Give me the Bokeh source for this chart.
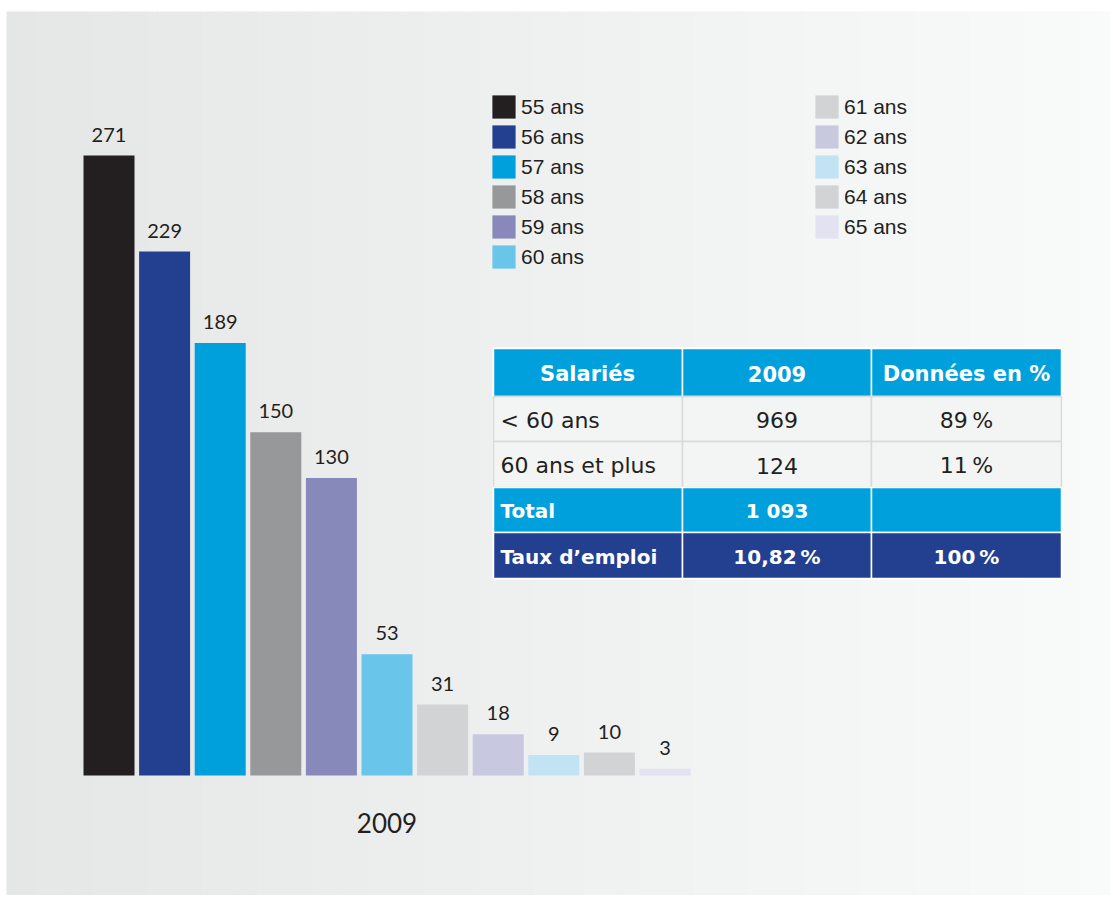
from bokeh.plotting import figure
from bokeh.models import Range1d, ColumnDataSource, Legend, LegendItem
from bokeh.core.properties import value
from bokeh.embed import file_html
from bokeh.resources import INLINE

# ---------------- data ----------------
ages = ["55 ans", "56 ans", "57 ans", "58 ans", "59 ans", "60 ans",
        "61 ans", "62 ans", "63 ans", "64 ans", "65 ans"]
counts = [271, 229, 189, 150, 130, 53, 31, 18, 9, 10, 3]
bar_colors = ["#231f20", "#233f8f", "#00a0dc", "#97989a", "#8889bb", "#69c5ea",
              "#d1d3d4", "#c8c8e0", "#c1e3f4", "#d1d3d4", "#e2e2f0"]
year_label = "2009"

table_header = ["Salariés", "2009", "Données en %"]
row_labels = ["< 60 ans", "60 ans et plus", "Total", "Taux d\u2019emploi"]
row_counts = ["969", "124", "1 093", "10,82\u2009%"]
row_shares = ["89\u2009%", "11\u2009%", "", "100\u2009%"]

# ---------------- layout (page pixels) ----------------
W, H = 1110, 895
PAGE = 0
bar0_center, bar_pitch, bar_px_width = 108.5, 55.6, 51.0
baseline_page, top_page = 775.0, 155.0
px_per_unit = (baseline_page - top_page) / max(counts)

x_start = (PAGE - bar0_center) / bar_pitch
x_end = (PAGE + W - bar0_center) / bar_pitch
y_end = (baseline_page - PAGE) / px_per_unit
y_start = -(PAGE + H - baseline_page) / px_per_unit

p = figure(width=W, height=H, output_backend="svg", toolbar_location=None,
           x_range=Range1d(x_start, x_end), y_range=Range1d(y_start, y_end),
           min_border=0, outline_line_color=None)
p.extra_x_ranges = {"px": Range1d(0, W)}
p.extra_y_ranges = {"px": Range1d(H, 0)}
p.axis.visible = False
p.grid.visible = False
p.background_fill_color = "white"
p.border_fill_color = "white"

# background gradient panel
panel_l, panel_r, panel_t, panel_b = 6, 1110, 11, 895
n_strips = 220
sw = (panel_r - panel_l) / n_strips
lefts, rights, cols = [], [], []
c0, c1 = (229, 230, 230), (249, 250, 250)
for i in range(n_strips):
    t = i / (n_strips - 1)
    c = tuple(int(round(a + (b - a) * t)) for a, b in zip(c0, c1))
    lefts.append(panel_l + i * sw)
    rights.append(min(panel_l + (i + 1) * sw + 1.0, panel_r))
    cols.append("#%02x%02x%02x" % c)
p.quad(left=lefts, right=rights, top=[panel_t] * n_strips, bottom=[panel_b] * n_strips,
       fill_color=cols, line_color=None, x_range_name="px", y_range_name="px")

# bars
xs = list(range(len(counts)))
label_gap = 14.0 / px_per_unit
src = ColumnDataSource(dict(x=xs, top=counts, color=bar_colors,
                            label=[str(c) for c in counts],
                            ly=[c + label_gap for c in counts]))
bars = p.vbar(x="x", top="top", bottom=0, width=bar_px_width / bar_pitch,
              fill_color="color", line_color=None, source=src)
p.text(x="x", y="ly", text="label", source=src, text_align="center",
       text_baseline="bottom", text_font=value("Lato"), text_font_size="20px",
       text_color="#231f20")

# category label under bars
p.text(x=[(len(counts) - 1) / 2], y=[-47.0 / px_per_unit], text=[year_label],
       text_align="center", text_baseline="middle", text_font=value("Lato"),
       text_font_size="26px", text_color="#231f20")

# legend
glyph = 29
leg_top = 92
leg_h = 6 * glyph + 5 * 1
items = [LegendItem(label=a, renderers=[bars], index=i) for i, a in enumerate(ages)]
legend = Legend(items=items, orientation="vertical", nrows=6,
                location=(489 - PAGE, H - (leg_top - PAGE) - leg_h),
                glyph_width=glyph, glyph_height=glyph, label_height=glyph, spacing=1,
                label_standoff=3, label_width=290, padding=0, margin=0,
                border_line_color=None, background_fill_alpha=0,
                label_text_font="Liberation Sans", label_text_font_size="21px",
                label_text_color="#231f20")
p.add_layout(legend, "center")

# table
col_edges = [(494, 681), (683, 870), (872, 1060)]
row_edges = [(349, 395), (397, 440), (442, 486), (488, 531), (533, 577)]
row_fills = ["#00a0dc", "#f3f4f4", "#f3f4f4", "#00a0dc", "#233f8f"]
ql, qr, qt, qb, qf, qlc = [], [], [], [], [], []
for (t, b), f in zip(row_edges, row_fills):
    for (l, r) in col_edges:
        ql.append(l - PAGE - 1); qr.append(r - PAGE + 1)
        qt.append(t - PAGE - 1); qb.append(b - PAGE + 1)
        qf.append(f)
        qlc.append("#d8d9da" if f == "#f3f4f4" else "white")
p.quad(left=[494 - PAGE - 2], right=[1060 - PAGE + 2], top=[349 - PAGE - 2],
       bottom=[577 - PAGE + 2], fill_color="white", line_color=None,
       x_range_name="px", y_range_name="px")
p.quad(left=ql, right=qr, top=qt, bottom=qb, fill_color=qf, line_color=qlc,
       line_width=1.5, x_range_name="px", y_range_name="px")

col_centers = [(l + r) / 2 - PAGE for l, r in col_edges]
row_centers = [(t + b) / 2 - PAGE + 1 for t, b in row_edges]
# header
p.text(x=[587 - PAGE, col_centers[1], 966 - PAGE], y=[row_centers[0]] * 3, text=table_header,
       text_align="center", text_baseline="middle", text_font=value("DejaVu Sans"),
       text_font_style="bold", text_font_size="21px", text_color="white",
       x_range_name="px", y_range_name="px")
# body rows
for k in range(4):
    dark = k >= 2
    color = "white" if dark else "#231f20"
    style = "bold" if dark else "normal"
    size = "20px" if dark else "22px"
    yk = row_centers[k + 1]
    p.text(x=[500 - PAGE], y=[yk], text=[row_labels[k]], text_align="left",
           text_baseline="middle", text_font=value("DejaVu Sans"), text_font_style=style,
           text_font_size=size, text_color=color,
           x_range_name="px", y_range_name="px")
    p.text(x=col_centers[1:], y=[yk, yk], text=[row_counts[k], row_shares[k]],
           text_align="center", text_baseline="middle", text_font=value("DejaVu Sans"),
           text_font_style=style, text_font_size=size, text_color=color,
           x_range_name="px", y_range_name="px")

open("out.html", "w").write(file_html(p, INLINE))
